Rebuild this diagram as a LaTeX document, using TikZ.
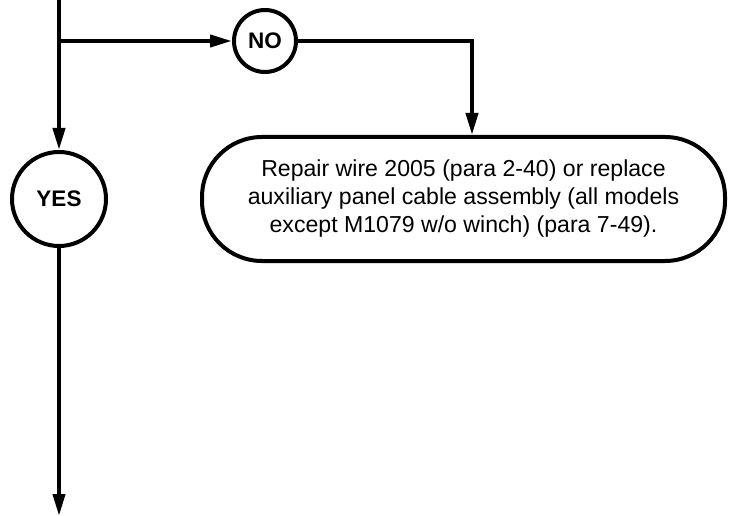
\documentclass[tikz,border=0pt]{standalone}
\usepackage{fontspec}
\setmainfont{Liberation Sans}
\usetikzlibrary{arrows.meta}

\tikzset{
  flow/.style={line width=4pt, -{Triangle[length=22pt,width=12pt]}},
  wire/.style={line width=4pt},
  answer/.style={circle, draw, line width=4pt, inner sep=0pt,
    font=\bfseries\fontsize{22.5}{26}\selectfont},
  action/.style={draw, line width=4pt, rounded corners=60pt,
    minimum width=523pt, minimum height=124pt, inner sep=0pt, align=center,
    font=\fontsize{23.1}{28}\selectfont}
}

\begin{document}
\begin{tikzpicture}[x=1pt, y=-1pt]

     \useasboundingbox (0,0) rectangle (734,516);

     % answers
     \node[answer, minimum size=62pt] (no) at (265,41) {NO};
     \node[answer, minimum size=94pt] (yes) at (59,199) {YES};

     % action
     \node[action] (repair) at (463.5,199) {Repair wire 2005 (para 2-40) or replace\\
       auxiliary panel cable assembly (all models\\
       except M1079 w/o winch) (para 7-49).};

     % ends
     \coordinate (top) at (59,0);
     \coordinate (branch) at (59,41);
     \coordinate (turn) at (472,41);
     \coordinate (bottom) at (59,516);

     % flow
     \draw[wire] (top) -- (branch);
     \draw[flow] (branch) -- (yes);
     \draw[flow] (branch) -- (no);
     \draw[flow] (no) -- (turn) -- (turn |- repair.north);
     \draw[flow] (yes) -- (bottom);

\end{tikzpicture}
\end{document}
